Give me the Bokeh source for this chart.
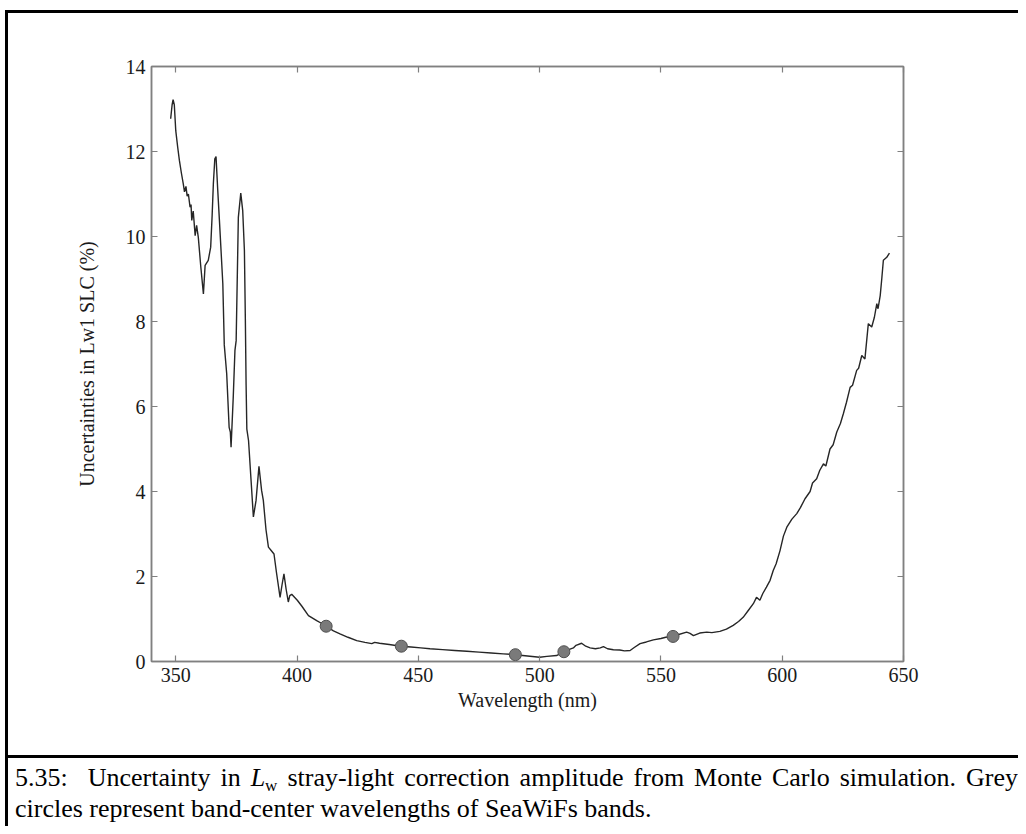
from bokeh.plotting import figure
from bokeh.models import Range1d, LinearAxis, FixedTicker, Div, Spacer
from bokeh.layouts import column, row
from bokeh.embed import file_html
from bokeh.resources import INLINE

# ---------------- data ----------------
wavelength = [347.9, 348.5, 348.9, 349.4, 350.0, 350.8, 351.5, 352.3, 353.1, 353.6,
              354.2, 354.7, 355.2, 355.9, 356.3, 356.6, 357.2, 358.0, 358.6, 359.3,
              360.3, 361.4, 362.1, 363.4, 364.4, 365.0, 365.5, 366.1, 366.6, 367.3,
              368.0, 369.4, 370.0, 371.0, 372.0, 372.5, 372.8, 373.7, 374.4, 374.9,
              375.8, 376.8, 377.6, 378.3, 378.7, 379.0, 379.3, 380.0, 381.0, 382.0,
              383.1, 384.3, 385.4, 386.1, 387.2, 388.2, 389.5, 390.5, 391.5, 393.0,
              393.8, 394.6, 395.5, 396.4, 397.0, 397.8, 400.1, 402.0, 404.7, 408.1,
              410.0, 412.0, 415.0, 417.7, 421.0, 424.6, 428.0, 430.8, 432.0, 434.0,
              438.0, 442.7, 447.0, 451.0, 454.8, 460.0, 465.0, 470.0, 475.0, 480.0,
              485.0, 490.0, 495.0, 500.0, 503.0, 507.0, 510.0, 512.0, 513.9, 515.0,
              517.3, 519.0, 520.8, 523.0, 525.0, 526.3, 528.0, 530.4, 533.0, 535.0,
              537.3, 539.0, 541.4, 544.0, 546.9, 550.0, 552.0, 555.0, 557.0, 560.6,
              562.0, 563.4, 566.0, 568.9, 571.0, 574.3, 577.0, 579.8, 582.0, 583.9,
              586.0, 588.1, 589.4, 590.8, 592.0, 593.5, 595.0, 596.3, 597.5, 599.1,
              600.5, 601.9, 604.0, 606.0, 607.5, 609.4, 611.5, 612.5, 614.2, 615.5,
              617.0, 618.0, 619.7, 621.0, 622.5, 624.0, 625.2, 626.5, 628.0, 629.0,
              630.7, 631.5, 632.8, 634.1, 635.5, 636.9, 638.0, 639.0, 639.5, 640.4,
              641.1, 641.7, 643.1, 644.2]
uncertainty = [12.77, 13.10, 13.22, 13.10, 12.49, 12.10, 11.79, 11.50, 11.24, 11.05,
               11.18, 10.95, 11.00, 10.69, 10.75, 10.38, 10.60, 10.02, 10.26, 9.98,
               9.30, 8.65, 9.32, 9.44, 9.75, 10.50, 11.24, 11.83, 11.88, 11.10,
               10.38, 8.89, 7.45, 6.77, 5.51, 5.40, 5.04, 6.22, 7.32, 7.55,
               10.45, 11.02, 10.61, 9.67, 8.00, 6.50, 5.47, 5.20, 4.30, 3.40,
               3.79, 4.59, 4.02, 3.79, 3.10, 2.69, 2.60, 2.53, 2.10, 1.51,
               1.80, 2.06, 1.70, 1.40, 1.55, 1.58, 1.44, 1.30, 1.08, 0.96,
               0.90, 0.83, 0.72, 0.65, 0.57, 0.49, 0.45, 0.42, 0.45, 0.43,
               0.40, 0.36, 0.34, 0.32, 0.30, 0.28, 0.26, 0.24, 0.22, 0.20,
               0.18, 0.16, 0.13, 0.10, 0.12, 0.14, 0.235, 0.28, 0.32, 0.38,
               0.43, 0.36, 0.32, 0.30, 0.32, 0.35, 0.30, 0.275, 0.27, 0.25,
               0.26, 0.33, 0.42, 0.46, 0.51, 0.54, 0.57, 0.59, 0.63, 0.69,
               0.66, 0.61, 0.67, 0.69, 0.68, 0.71, 0.76, 0.85, 0.94, 1.04,
               1.20, 1.36, 1.51, 1.44, 1.60, 1.75, 1.91, 2.14, 2.30, 2.61,
               2.95, 3.16, 3.35, 3.48, 3.62, 3.83, 4.00, 4.20, 4.30, 4.50,
               4.65, 4.60, 5.00, 5.10, 5.40, 5.60, 5.83, 6.10, 6.45, 6.50,
               6.85, 6.90, 7.20, 7.12, 7.95, 7.87, 8.10, 8.42, 8.30, 8.61,
               9.04, 9.44, 9.51, 9.61]

band_wavelength = [412, 443, 490, 510, 555]
band_uncertainty = [0.83, 0.36, 0.16, 0.23, 0.59]

x_ticks = [350, 400, 450, 500, 550, 600, 650]
y_ticks = [0, 2, 4, 6, 8, 10, 12, 14]

x_label = "Wavelength (nm)"
y_label = "Uncertainties in Lw1 SLC (%)"
caption_number = "5.35:"
caption_line1 = ("Uncertainty in <i>L</i><sub>w</sub> stray-light correction amplitude "
                 "from Monte Carlo simulation. Grey")
caption_line2 = "circles represent band-center wavelengths of SeaWiFs bands."

# ---------------- layout constants ----------------
TOTAL_W, TOTAL_H = 1018, 826
TOP_GAP, LEFT_GAP, RULE = 10, 5, 3
INNER_W = TOTAL_W - LEFT_GAP - RULE            # 1010
PW = INNER_W                                     # chart figure width
PH = 742                                         # chart figure height
CH = TOTAL_H - TOP_GAP - RULE - PH - RULE        # caption height
FL, FR, FT, FB = 143, 895, 53, 648               # frame edges inside chart figure
SERIF = "Liberation Serif"
AX_GREY = "#808080"
NO_OVERFLOW = {"overflow": "hidden"}

p = figure(width=PW, height=PH, output_backend="svg", toolbar_location=None, tools="",
           x_range=Range1d(340, 650), y_range=Range1d(0, 14),
           min_border_left=FL, min_border_right=PW - FR,
           min_border_top=FT, min_border_bottom=PH - FB,
           x_axis_type=None, y_axis_type=None, styles=NO_OVERFLOW)
p.toolbar.logo = None
p.toolbar.visible = False
p.grid.visible = False
p.outline_line_color = AX_GREY
p.outline_line_width = 1.5
p.background_fill_color = "white"
p.border_fill_color = "white"


def style_axis(ax, ticks, show_labels):
    ax.ticker = FixedTicker(ticks=ticks)
    ax.major_tick_in = 6
    ax.major_tick_out = 0
    ax.minor_tick_in = 0
    ax.minor_tick_out = 0
    ax.axis_line_color = AX_GREY
    ax.axis_line_width = 1.5
    ax.major_tick_line_color = AX_GREY
    ax.major_tick_line_width = 1.2
    ax.major_label_text_font = SERIF
    ax.major_label_text_font_size = "20px"
    ax.major_label_text_color = "#1a1a1a"
    ax.axis_label_text_font = SERIF
    ax.axis_label_text_font_size = "20px"
    ax.axis_label_text_font_style = "normal"
    ax.axis_label_text_color = "#1a1a1a"
    if not show_labels:
        ax.major_label_overrides = {t: "" for t in ticks}


xb = LinearAxis(axis_label=x_label)
style_axis(xb, x_ticks, True)
xb.major_label_standoff = 6
xb.axis_label_standoff = 4
p.add_layout(xb, "below")

xt = LinearAxis()
style_axis(xt, x_ticks, False)
p.add_layout(xt, "above")

yl = LinearAxis(axis_label=y_label)
style_axis(yl, y_ticks, True)
yl.major_label_standoff = 6
yl.axis_label_standoff = 25
p.add_layout(yl, "left")

yr = LinearAxis()
style_axis(yr, y_ticks, False)
p.add_layout(yr, "right")

p.line(wavelength, uncertainty, line_color="#262626", line_width=1.4)
p.scatter(band_wavelength, band_uncertainty, size=12, marker="circle",
          fill_color="#7a7a7a", line_color="#505050", line_width=1)

# ---------------- caption (HTML text, justified first line) ----------------
caption_html = (
    "<div style=\"font-family: 'Liberation Serif', 'Times New Roman', serif; "
    "font-size: 26px; line-height: 31px; color: black; "
    f"padding: 4px 0 0 7px; width: {INNER_W - 7}px; box-sizing: content-box;\">"
    "<div style=\"text-align: justify; text-align-last: justify;\">"
    f"{caption_number}&nbsp; "
    + caption_line1.replace(
        "<sub>", "<sub style=\"font-size: 17px; line-height: 0; vertical-align: -5px;\">")
    + "</div>"
    f"<div style=\"text-align: left;\">{caption_line2}</div>"
    "</div>"
)
caption = Div(text=caption_html, width=INNER_W, height=CH, margin=(0, 0, 0, 0),
              styles=NO_OVERFLOW)

# ---------------- page rules ----------------
black = {"background-color": "black", "overflow": "hidden"}
top_rule = Div(text="", width=INNER_W, height=RULE, margin=(0, 0, 0, 0), styles=black)
sep_rule = Div(text="", width=INNER_W, height=RULE, margin=(0, 0, 0, 0), styles=black)
left_rule = Div(text="", width=RULE, height=TOTAL_H - TOP_GAP, margin=(0, 0, 0, 0),
                styles=black)

inner = column(top_rule, p, sep_rule, caption, spacing=0, width=INNER_W,
               height=TOTAL_H - TOP_GAP, styles=NO_OVERFLOW)
layout = column(
    Spacer(width=TOTAL_W, height=TOP_GAP, margin=(0, 0, 0, 0)),
    row(
        Spacer(width=LEFT_GAP, height=TOTAL_H - TOP_GAP, margin=(0, 0, 0, 0)),
        left_rule,
        inner,
        spacing=0, styles=NO_OVERFLOW,
    ),
    spacing=0, styles=NO_OVERFLOW,
)

open("out.html", "w").write(file_html(layout, INLINE))
